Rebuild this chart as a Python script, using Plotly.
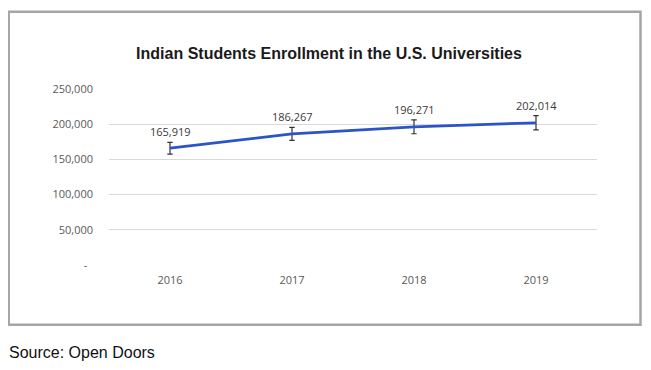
import plotly.graph_objects as go

years = ["2016", "2017", "2018", "2019"]
enrollment = [165919, 186267, 196271, 202014]
y_tick_vals = [0, 50000, 100000, 150000, 200000, 250000]
y_tick_text = ["-\u00a0\u00a0", "50,000", "100,000", "150,000", "200,000", "250,000"]
error_pct = 5

OFF = 8  # page body margin
W, H = 651 - OFF, 370 - OFF
L, R, T, B = 109 - OFF, 54, 89 - OFF, 105
PW = W - L - R
PH = H - T - B

def px_x(p):
    return (p - OFF - L) / PW

def px_y(p):
    return (H - B - (p - OFF)) / PH

fig = go.Figure()
fig.add_trace(go.Scatter(
    x=years, y=enrollment, mode="lines",
    line=dict(color="#2b54c7", width=2.75),
    error_y=dict(type="percent", value=error_pct, color="#333333", thickness=1.2, width=2.7),
    hoverinfo="x+y", showlegend=False,
))

for i, v in enumerate(enrollment):
    fig.add_annotation(x=i, y=v, text=f"{v:,}", showarrow=False, yshift=17,
                       yanchor="middle", font=dict(family="Open Sans", size=11, color="#3a3a3a"))

fig.add_shape(type="rect", xref="paper", yref="paper",
              x0=px_x(8.7), x1=px_x(640.5), y0=px_y(324.7), y1=px_y(11.7),
              line=dict(color="#a5a5a5", width=2.5), layer="below")

fig.add_annotation(xref="paper", yref="paper", x=px_x(7), y=px_y(352), xanchor="left", yanchor="middle",
                   text="Source: Open Doors", showarrow=False,
                   font=dict(family="Liberation Sans, Arial", size=16, color="#111111"))

fig.update_layout(
    width=W, height=H,
    margin=dict(l=L, r=R, t=T, b=B),
    paper_bgcolor="white", plot_bgcolor="white",
    title=dict(text="<b>Indian Students Enrollment in the U.S. Universities</b>",
               xref="container", yref="container", x=(329 - OFF) / W, y=1 - (53 - OFF) / H,
               xanchor="center", yanchor="middle",
               font=dict(family="Liberation Sans, Arial", size=16, color="#1a1a1a")),
    xaxis=dict(type="category", range=[-0.5, 3.5], showgrid=False, zeroline=False,
               showline=False, ticks="", ticklabelstandoff=7,
               tickfont=dict(family="Open Sans", size=11, color="#595959")),
    yaxis=dict(range=[0, 250000], tickvals=y_tick_vals, ticktext=y_tick_text,
               showgrid=True, gridcolor="#d9d9d9", gridwidth=1.3, zeroline=False,
               showline=False, ticks="", ticklabelstandoff=15,
               tickfont=dict(family="Open Sans", size=11, color="#595959")),
)

fig.write_html("out.html")
